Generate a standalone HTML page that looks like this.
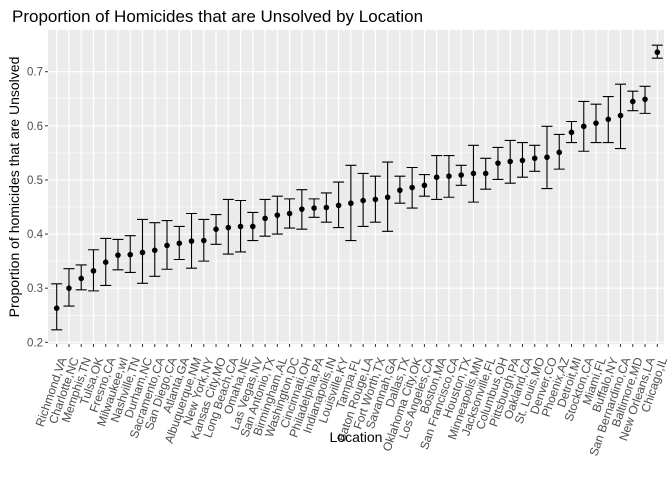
<!DOCTYPE html>
<html><head><meta charset="utf-8"><style>
body{margin:0;background:#fff;}
svg{display:block;font-family:"Liberation Sans",Arial,sans-serif;}
</style></head><body>
<svg id="chart" width="672" height="480" xmlns="http://www.w3.org/2000/svg">
<text x="12" y="22" font-size="17" fill="#000">Proportion of Homicides that are Unsolved by Location</text>
<rect x="48" y="30" width="616" height="314" fill="#ebebeb"/>
<g id="grid"></g><g id="marks"></g><g id="axes"></g>
<text transform="translate(19,187) rotate(-90)" text-anchor="middle" font-size="14" fill="#000">Proportion of homicides that are Unsolved</text>
<text x="356" y="442" text-anchor="middle" font-size="14" fill="#000">Location</text>
</svg>
<script>
const cities=["Richmond,VA","Charlotte,NC","Memphis,TN","Tulsa,OK","Fresno,CA","Milwaukee,wI","Nashville,TN","Durham,NC","Sacramento,CA","San Diego,CA","Atlanta,GA","Albuquerque,NM","New York,NY","Kansas City,MO","Long Beach,CA","Omaha,NE","Las Vegas,NV","San Antonio,TX","Birmingham,AL","Washington,DC","Cincinnati,OH","Philadelphia,PA","Indianapolis,IN","Louisville,KY","Tampa,FL","Baton Rouge,LA","Fort Worth,TX","Savannah,GA","Dallas,TX","Oklahoma City,OK","Los Angeles,CA","Boston,MA","San Francisco,CA","Houston,TX","Minneapolis,MN","Jacksonville,FL","Columbus,OH","Pittsburgh,PA","Oakland,CA","St. Louis,MO","Denver,CO","Phoenix,AZ","Detroit,MI","Stockton,CA","Miami,FL","Buffalo,NY","San Bernardino,CA","Baltimore,MD","New Orleans,LA","Chicago,IL"];
const estimate=[0.263,0.300,0.318,0.332,0.348,0.361,0.362,0.366,0.370,0.379,0.383,0.387,0.388,0.409,0.412,0.414,0.414,0.429,0.435,0.438,0.446,0.448,0.449,0.453,0.457,0.462,0.464,0.468,0.481,0.486,0.490,0.505,0.507,0.509,0.512,0.512,0.531,0.534,0.536,0.540,0.542,0.551,0.588,0.599,0.605,0.612,0.619,0.645,0.649,0.736];
const confLow=[0.223,0.267,0.297,0.295,0.305,0.334,0.329,0.309,0.322,0.335,0.353,0.337,0.350,0.381,0.363,0.367,0.388,0.396,0.400,0.411,0.409,0.431,0.422,0.412,0.388,0.414,0.422,0.405,0.457,0.448,0.470,0.464,0.468,0.490,0.459,0.483,0.501,0.494,0.505,0.516,0.484,0.520,0.569,0.553,0.569,0.569,0.558,0.628,0.623,0.725];
const confHigh=[0.308,0.336,0.343,0.371,0.392,0.390,0.397,0.427,0.421,0.425,0.414,0.438,0.427,0.436,0.464,0.462,0.440,0.464,0.470,0.465,0.482,0.465,0.476,0.496,0.527,0.512,0.507,0.533,0.507,0.523,0.510,0.545,0.545,0.527,0.564,0.540,0.560,0.573,0.569,0.564,0.599,0.584,0.608,0.645,0.640,0.654,0.677,0.664,0.673,0.749];
const yTicks=[0.2,0.3,0.4,0.5,0.6,0.7];
const NS="http://www.w3.org/2000/svg";
const L=48,R=664,T=30,B=344;
function y(v){return 342.3-(v-0.2)*541.2;}
function x(i){return 56.7+i*(657.3-56.7)/(cities.length-1);}
function mk(tag,attrs,parent){const e=document.createElementNS(NS,tag);for(const k in attrs)e.setAttribute(k,attrs[k]);parent.appendChild(e);return e;}
const grid=document.getElementById('grid'),marks=document.getElementById('marks'),axes=document.getElementById('axes');
for(let k=0;k<yTicks.length-1;k++){const v=(yTicks[k]+yTicks[k+1])/2;
 const g=mk('line',{x1:L,x2:R,y1:y(v),y2:y(v),stroke:'#fff','stroke-width':0.6},grid);
 
 }
yTicks.forEach(v=>{
 const g=mk('line',{x1:L,x2:R,y1:y(v),y2:y(v),stroke:'#fff','stroke-width':1.2},grid);
 
 
 const t=mk('line',{x1:L-3,x2:L,y1:y(v),y2:y(v),stroke:'#333','stroke-width':1},axes);
 
 
 const tx=mk('text',{x:L-5,y:y(v)+4,'text-anchor':'end','font-size':11.5,fill:'#4d4d4d'},axes);
 tx.textContent=v.toFixed(1);
 
 
});
cities.forEach((c,i)=>{
 const xx=x(i);
 const g=mk('line',{x1:xx,x2:xx,y1:T,y2:B,stroke:'#fff','stroke-width':1.2},grid);
 
 
 const eb=mk('path',{d:`M${xx-5.5},${y(confHigh[i])}H${xx+5.5}M${xx},${y(confHigh[i])}V${y(confLow[i])}M${xx-5.5},${y(confLow[i])}H${xx+5.5}`,stroke:'#000','stroke-width':1.1,fill:'none'},marks);
 
 
 const p=mk('circle',{cx:xx,cy:y(estimate[i]),r:2.8,fill:'#000'},marks);
 
 
 const t=mk('line',{x1:xx,x2:xx,y1:B,y2:B+3,stroke:'#333','stroke-width':1},axes);
 
 
 const tx=mk('text',{transform:`translate(${xx+10},${B+15}) rotate(-71)`,'text-anchor':'end','font-size':12,fill:'#4d4d4d'},axes);
 tx.textContent=c;
 
 
});
</script>
</body></html>
